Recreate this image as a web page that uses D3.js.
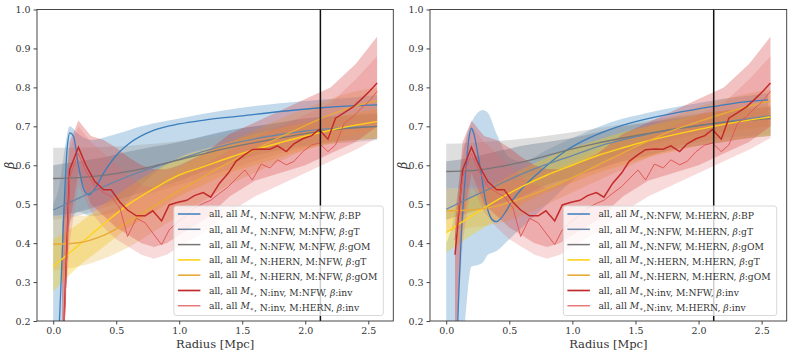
<!DOCTYPE html>
<html>
<head>
<meta charset="utf-8">
<script src="https://cdn.jsdelivr.net/npm/d3@7"></script>
<style>
  body { margin: 0; background: #fff; }
</style>
</head>
<body>
<svg id="chart" width="793" height="357"></svg>
<script>
// radii where the smooth fits are sampled
const radiusGrid = [0, 0.2, 0.4, 0.6, 0.8, 1.0, 1.2, 1.4, 1.6, 1.8, 2.0, 2.2, 2.4, 2.57];
// radii of the binned inversion profiles
const radiusBins = [0.07, 0.13, 0.20, 0.26, 0.33, 0.40, 0.46, 0.53, 0.59, 0.66, 0.73, 0.79, 0.86,
  0.92, 0.99, 1.06, 1.12, 1.19, 1.25, 1.32, 1.39, 1.45, 1.52, 1.58, 1.65, 1.72, 1.78, 1.85, 1.91,
  1.98, 2.05, 2.11, 2.18, 2.24, 2.31, 2.38, 2.44, 2.51, 2.57];
const radiusBandBins = [0.07, 0.13, 0.2, 0.3, 0.4, 0.5, 0.6, 0.7, 0.8, 0.9, 1.0, 1.2, 1.4, 1.6, 1.8, 2.0, 2.2, 2.4, 2.57];

const xTicks = [0, 0.5, 1.0, 1.5, 2.0, 2.5];
const yTicks = [0.2, 0.3, 0.4, 0.5, 0.6, 0.7, 0.8, 0.9, 1.0];
const rVirial = 2.12;

// ---- left panel, M:NFW ----
const bpRadiusNFW = [0.03, 0.06, 0.09, 0.11, 0.133, 0.16, 0.2, 0.24, 0.28, 0.32, 0.4, 0.5, 0.6, 0.8, 1.0, 1.2, 1.5, 1.8, 2.1, 2.4, 2.57];
const bpBetaNFW = [0.05, 0.28, 0.52, 0.64, 0.683, 0.675, 0.6, 0.54, 0.524, 0.535, 0.58, 0.625, 0.655, 0.69, 0.706, 0.716, 0.727, 0.738, 0.747, 0.753, 0.755];
const bpBandRadiusNFW = [0, 0.05, 0.1, 0.13, 0.2, 0.3, 0.5, 0.7, 1.0, 1.3, 1.6, 2.0, 2.3, 2.57];
const bpLoNFW = [0.1, 0.1, 0.3, 0.45, 0.48, 0.47, 0.48, 0.55, 0.62, 0.65, 0.67, 0.69, 0.7, 0.71];
const bpHiNFW = [0.5, 0.55, 0.66, 0.7, 0.68, 0.665, 0.68, 0.70, 0.72, 0.738, 0.752, 0.765, 0.772, 0.78];

const gtBetaNFW = [0.485, 0.515, 0.545, 0.572, 0.595, 0.615, 0.636, 0.654, 0.668, 0.679, 0.688, 0.694, 0.698, 0.70];
const gtLoNFW = [0.47, 0.48, 0.5, 0.52, 0.54, 0.56, 0.585, 0.605, 0.625, 0.64, 0.65, 0.66, 0.665, 0.668];
const gtHiNFW = [0.6, 0.61, 0.62, 0.635, 0.648, 0.66, 0.675, 0.69, 0.70, 0.71, 0.72, 0.725, 0.73, 0.733];

const gomBetaNFW = [0.566, 0.568, 0.574, 0.584, 0.598, 0.614, 0.63, 0.645, 0.658, 0.67, 0.681, 0.69, 0.696, 0.699];
const gomLoNFW = [0.46, 0.47, 0.49, 0.51, 0.53, 0.55, 0.57, 0.59, 0.61, 0.63, 0.645, 0.655, 0.66, 0.665];
const gomHiNFW = [0.645, 0.645, 0.647, 0.65, 0.655, 0.662, 0.67, 0.68, 0.69, 0.70, 0.71, 0.72, 0.725, 0.728];

const hernGtBetaNFW = [0.34, 0.394, 0.449, 0.5, 0.54, 0.575, 0.597, 0.62, 0.64, 0.658, 0.675, 0.69, 0.703, 0.712];
const hernGtLoNFW = [0.275, 0.34, 0.39, 0.44, 0.48, 0.52, 0.55, 0.58, 0.6, 0.62, 0.64, 0.655, 0.665, 0.67];
const hernGtHiNFW = [0.41, 0.45, 0.5, 0.545, 0.585, 0.62, 0.64, 0.66, 0.68, 0.695, 0.71, 0.722, 0.735, 0.745];

const hernGomBetaNFW = [0.397, 0.401, 0.42, 0.455, 0.495, 0.535, 0.572, 0.608, 0.64, 0.672, 0.702, 0.73, 0.752, 0.766];
const hernGomLoNFW = [0.33, 0.34, 0.36, 0.39, 0.43, 0.47, 0.51, 0.55, 0.58, 0.61, 0.64, 0.66, 0.68, 0.69];
const hernGomHiNFW = [0.47, 0.47, 0.48, 0.51, 0.55, 0.59, 0.63, 0.66, 0.69, 0.72, 0.745, 0.77, 0.79, 0.8];

const invNfwBetaL = [0.05, 0.588, 0.646, 0.60, 0.558, 0.537, 0.537, 0.505, 0.485, 0.47, 0.47, 0.483, 0.457,
  0.498, 0.505, 0.51, 0.522, 0.53, 0.518, 0.554, 0.58, 0.61, 0.627, 0.64, 0.642, 0.641, 0.65, 0.635, 0.655,
  0.668, 0.676, 0.692, 0.667, 0.721, 0.735, 0.75, 0.768, 0.79, 0.811];
const invHernBetaL = [0.03, 0.57, 0.63, 0.585, 0.545, 0.53, 0.52, 0.49, 0.417, 0.464, 0.452, 0.426, 0.396,
  0.434, 0.455, 0.472, 0.49, 0.502, 0.51, 0.528, 0.545, 0.565, 0.588, 0.562, 0.603, 0.593, 0.614, 0.601, 0.61,
  0.635, 0.652, 0.657, 0.635, 0.652, 0.708, 0.725, 0.745, 0.765, 0.79];

// ---- right panel, M:HERN ----
const bpRadiusHERN = [0.06, 0.092, 0.12, 0.158, 0.18, 0.2, 0.22, 0.25, 0.277, 0.3, 0.33, 0.36, 0.395, 0.43, 0.47, 0.527, 0.6, 0.712, 0.92, 1.1, 1.29, 1.5, 1.8, 2.12, 2.35, 2.55];
const bpBetaHERN = [-0.2, 0.2, 0.42, 0.597, 0.67, 0.695, 0.68, 0.63, 0.58, 0.53, 0.485, 0.462, 0.455, 0.462, 0.48, 0.511, 0.54, 0.575, 0.631, 0.665, 0.691, 0.712, 0.733, 0.751, 0.762, 0.768];
const bpBandRadiusHERN = [0, 0.05, 0.1, 0.15, 0.2, 0.25, 0.29, 0.33, 0.4, 0.5, 0.6, 0.8, 1.0, 1.3, 1.6, 2.0, 2.3, 2.55];
const bpLoHERN = [-0.1, -0.1, 0.0, 0.2, 0.34, 0.344, 0.35, 0.37, 0.38, 0.41, 0.44, 0.5, 0.56, 0.62, 0.65, 0.68, 0.69, 0.70];
const bpHiHERN = [0.4, 0.45, 0.55, 0.66, 0.71, 0.735, 0.742, 0.735, 0.68, 0.62, 0.61, 0.64, 0.67, 0.71, 0.735, 0.76, 0.775, 0.785];

const gtBetaHERN = [0.487, 0.518, 0.548, 0.578, 0.603, 0.625, 0.648, 0.665, 0.68, 0.692, 0.702, 0.711, 0.72, 0.727];
const gtLoHERN = [0.46, 0.48, 0.5, 0.52, 0.55, 0.57, 0.59, 0.61, 0.625, 0.64, 0.65, 0.66, 0.67, 0.675];
const gtHiHERN = [0.61, 0.62, 0.635, 0.65, 0.66, 0.67, 0.685, 0.7, 0.71, 0.72, 0.73, 0.74, 0.745, 0.75];

const gomBetaHERN = [0.584, 0.586, 0.595, 0.608, 0.625, 0.642, 0.657, 0.67, 0.682, 0.693, 0.702, 0.71, 0.716, 0.72];
const gomLoHERN = [0.54, 0.545, 0.555, 0.57, 0.585, 0.6, 0.615, 0.63, 0.64, 0.65, 0.66, 0.67, 0.675, 0.68];
const gomHiHERN = [0.655, 0.657, 0.662, 0.668, 0.676, 0.685, 0.695, 0.705, 0.715, 0.725, 0.733, 0.74, 0.745, 0.75];

const hernGtBetaHERN = [0.427, 0.47, 0.51, 0.545, 0.575, 0.6, 0.625, 0.645, 0.663, 0.678, 0.692, 0.705, 0.716, 0.724];
const hernGtLoHERN = [0.375, 0.42, 0.46, 0.5, 0.53, 0.555, 0.58, 0.6, 0.62, 0.635, 0.65, 0.66, 0.67, 0.675];
const hernGtHiHERN = [0.48, 0.52, 0.555, 0.59, 0.62, 0.645, 0.665, 0.685, 0.70, 0.715, 0.73, 0.74, 0.75, 0.755];

const hernGomBetaHERN = [0.483, 0.485, 0.495, 0.515, 0.54, 0.568, 0.6, 0.632, 0.662, 0.69, 0.712, 0.733, 0.752, 0.765];
const hernGomLoHERN = [0.43, 0.44, 0.45, 0.47, 0.5, 0.53, 0.56, 0.59, 0.62, 0.645, 0.665, 0.68, 0.69, 0.70];
const hernGomHiHERN = [0.54, 0.54, 0.55, 0.565, 0.585, 0.61, 0.64, 0.67, 0.7, 0.725, 0.75, 0.77, 0.785, 0.795];

const invNfwBetaR = [0.37, 0.588, 0.646, 0.60, 0.558, 0.537, 0.537, 0.505, 0.485, 0.47, 0.47, 0.483, 0.457,
  0.498, 0.505, 0.51, 0.522, 0.53, 0.518, 0.554, 0.58, 0.61, 0.627, 0.64, 0.642, 0.641, 0.65, 0.635, 0.655,
  0.668, 0.676, 0.692, 0.667, 0.721, 0.735, 0.75, 0.768, 0.79, 0.811];
const invHernBetaR = [0.408, 0.57, 0.63, 0.585, 0.545, 0.53, 0.52, 0.49, 0.417, 0.464, 0.452, 0.426, 0.396,
  0.434, 0.455, 0.472, 0.49, 0.502, 0.51, 0.528, 0.545, 0.565, 0.588, 0.562, 0.603, 0.593, 0.614, 0.601, 0.61,
  0.635, 0.652, 0.657, 0.635, 0.652, 0.708, 0.725, 0.745, 0.765, 0.79];

// inversion uncertainty bands (same in both panels)
const invNfwLo = [0.1, 0.45, 0.58, 0.5, 0.47, 0.44, 0.42, 0.4, 0.39, 0.4, 0.42, 0.46, 0.52, 0.56, 0.58, 0.6, 0.63, 0.66, 0.7];
const invNfwHi = [0.45, 0.66, 0.715, 0.675, 0.665, 0.645, 0.62, 0.6, 0.59, 0.59, 0.6, 0.63, 0.68, 0.71, 0.74, 0.77, 0.8, 0.86, 0.93];
const invHernLo = [0.1, 0.4, 0.55, 0.48, 0.44, 0.41, 0.39, 0.37, 0.36, 0.37, 0.39, 0.43, 0.48, 0.52, 0.55, 0.58, 0.61, 0.64, 0.67];
const invHernHi = [0.4, 0.64, 0.7, 0.66, 0.63, 0.6, 0.57, 0.55, 0.54, 0.55, 0.57, 0.6, 0.64, 0.67, 0.7, 0.73, 0.76, 0.82, 0.88];

const labelsNFW = [
  "all, all M*, N:NFW, M:NFW, β:BP",
  "all, all M*, N:NFW, M:NFW, β:gT",
  "all, all M*, N:NFW, M:NFW, β:gOM",
  "all, all M*, N:HERN, M:NFW, β:gT",
  "all, all M*, N:HERN, M:NFW, β:gOM",
  "all, all M*, N:inv, M:NFW, β:inv",
  "all, all M*, N:inv, M:HERN, β:inv"
];
const labelsHERN = [
  "all, all M*,N:NFW, M:HERN, β:BP",
  "all, all M*,N:NFW, M:HERN, β:gT",
  "all, all M*,N:NFW, M:HERN, β:gOM",
  "all, all M*,N:HERN, M:HERN, β:gT",
  "all, all M*,N:HERN, M:HERN, β:gOM",
  "all, all M*,N:inv, M:NFW, β:inv",
  "all, all M*,N:inv, M:HERN, β:inv"
];

// line colour, band colour, band opacity, line width
const styles = [
  {line: "#3b7dbd", band: "#1f77b4", op: 0.27, w: 1.3},
  {line: "#6b87a5", band: "#4d6680", op: 0.38, w: 1.3},
  {line: "#777777", band: "#a0a0a0", op: 0.35, w: 1.3},
  {line: "#ffd21a", band: "#f5cc1c", op: 0.38, w: 1.4},
  {line: "#e8aa38", band: "#e8b548", op: 0.3, w: 1.4},
  {line: "#c22b2b", band: "#d33535", op: 0.3, w: 1.5},
  {line: "#e05a5a", band: "#e26a6a", op: 0.25, w: 1.0}
];

const serif = "DejaVu Serif";

const zip = (xs, ys) => xs.map((r, i) => ({r: r, b: ys[i]}));
const zipBand = (xs, lo, hi) => xs.map((r, i) => ({r: r, lo: lo[i], hi: hi[i]}));

const panels = [
  {
    id: "nfw", x0: 37, x1: 393.3, labels: labelsNFW,
    bands: [
      zipBand(bpBandRadiusNFW, bpLoNFW, bpHiNFW),
      zipBand(radiusGrid, gtLoNFW, gtHiNFW),
      zipBand(radiusGrid, gomLoNFW, gomHiNFW),
      zipBand(radiusGrid, hernGtLoNFW, hernGtHiNFW),
      zipBand(radiusGrid, hernGomLoNFW, hernGomHiNFW),
      zipBand(radiusBandBins, invNfwLo, invNfwHi),
      zipBand(radiusBandBins, invHernLo, invHernHi)
    ],
    lines: [
      zip(bpRadiusNFW, bpBetaNFW),
      zip(radiusGrid, gtBetaNFW),
      zip(radiusGrid, gomBetaNFW),
      zip(radiusGrid, hernGtBetaNFW),
      zip(radiusGrid, hernGomBetaNFW),
      zip(radiusBins, invNfwBetaL),
      zip(radiusBins, invHernBetaL)
    ]
  },
  {
    id: "hern", x0: 430, x1: 786.7, labels: labelsHERN,
    bands: [
      zipBand(bpBandRadiusHERN, bpLoHERN, bpHiHERN),
      zipBand(radiusGrid, gtLoHERN, gtHiHERN),
      zipBand(radiusGrid, gomLoHERN, gomHiHERN),
      zipBand(radiusGrid, hernGtLoHERN, hernGtHiHERN),
      zipBand(radiusGrid, hernGomLoHERN, hernGomHiHERN),
      zipBand(radiusBandBins, invNfwLo, invNfwHi),
      zipBand(radiusBandBins, invHernLo, invHernHi)
    ],
    lines: [
      zip(bpRadiusHERN, bpBetaHERN),
      zip(radiusGrid, gtBetaHERN),
      zip(radiusGrid, gomBetaHERN),
      zip(radiusGrid, hernGtBetaHERN),
      zip(radiusGrid, hernGomBetaHERN),
      zip(radiusBins, invNfwBetaR),
      zip(radiusBins, invHernBetaR)
    ]
  }
];

const plotTop = 9.5, plotBottom = 321;
const svg = d3.select("#chart");

// write "M*" and "β" as maths
const writeLabel = (textSel, label) => {
  label.split(/(M\*|β)/).forEach(part => {
    if (part === "M*") {
      textSel.append("tspan").attr("font-style", "italic").text("M");
      textSel.append("tspan").attr("font-size", 6).attr("dy", 2).text("∗");
      textSel.append("tspan").attr("dy", -2).text("");
    } else if (part === "β") {
      textSel.append("tspan").attr("font-style", "italic").text("β");
    } else if (part.length) {
      textSel.append("tspan").text(part);
    }
  });
};

panels.forEach(p => {
  const x = d3.scaleLinear().domain([-0.1285, 2.6985]).range([p.x0, p.x1]);
  const y = d3.scaleLinear().domain([0.2, 1.0]).range([plotBottom, plotTop]);
  const g = svg.append("g").attr("font-family", serif);

  g.append("clipPath").attr("id", "clip-" + p.id)
    .append("rect").attr("x", p.x0).attr("y", plotTop).attr("width", p.x1 - p.x0).attr("height", plotBottom - plotTop);

  const plot = g.append("g").attr("clip-path", `url(#clip-${p.id})`);

  const smooth = d3.curveMonotoneX;
  p.bands.forEach((band, i) => {
    const area = d3.area()
      .x(d => x(d.r)).y0(d => y(d.lo)).y1(d => y(d.hi))
      .curve(i >= 5 ? d3.curveLinear : smooth);
    plot.append("path").datum(band)
      .attr("d", area)
      .attr("fill", styles[i].band)
      .attr("fill-opacity", styles[i].op);
  });

  p.lines.forEach((line, i) => {
    const path = d3.line().x(d => x(d.r)).y(d => y(d.b))
      .curve(i >= 5 ? d3.curveLinear : smooth);
    plot.append("path").datum(line)
      .attr("d", path)
      .attr("fill", "none")
      .attr("stroke", styles[i].line)
      .attr("stroke-width", styles[i].w);
  });

  // virial radius marker
  g.append("line")
    .attr("x1", x(rVirial)).attr("x2", x(rVirial))
    .attr("y1", plotTop).attr("y2", plotBottom)
    .attr("stroke", "#111").attr("stroke-width", 1.5);

  // frame
  g.append("rect")
    .attr("x", p.x0).attr("y", plotTop).attr("width", p.x1 - p.x0).attr("height", plotBottom - plotTop)
    .attr("fill", "none").attr("stroke", "#333").attr("stroke-width", 0.9);

  const xAxis = g.append("g").attr("transform", `translate(0,${plotBottom})`)
    .call(d3.axisBottom(x).tickValues(xTicks).tickFormat(d3.format(".1f")).tickSize(3.5).tickPadding(2.5));
  const yAxis = g.append("g").attr("transform", `translate(${p.x0},0)`)
    .call(d3.axisLeft(y).tickValues(yTicks).tickFormat(d3.format(".1f")).tickSize(3.5).tickPadding(3));
  [xAxis, yAxis].forEach(ax => {
    ax.attr("font-family", serif).attr("font-size", 9.5);
    ax.select(".domain").remove();
    ax.selectAll("line").attr("stroke", "#333").attr("stroke-width", 0.9);
    ax.selectAll("text").attr("fill", "#333");
  });

  g.append("text")
    .attr("x", (p.x0 + p.x1) / 2).attr("y", 348)
    .attr("text-anchor", "middle").attr("font-size", 11.5).attr("fill", "#333")
    .text("Radius [Mpc]");
  g.append("text")
    .attr("transform", `translate(${p.x0 - 23},${(plotTop + plotBottom) / 2}) rotate(-90)`)
    .attr("text-anchor", "middle").attr("font-size", 12).attr("font-style", "italic").attr("fill", "#333")
    .text("β");

  // legend, lower right
  const leg = g.append("g");
  const box = leg.append("rect").attr("rx", 2.5)
    .attr("fill", "#fff").attr("fill-opacity", 0.8)
    .attr("stroke", "#d5d5d5").attr("stroke-width", 0.9);
  const rowH = 15.3, legBottom = plotBottom - 5.5, legHeight = 109.5;
  const legTop = legBottom - legHeight;
  const texts = p.labels.map((lab, i) => {
    const t = leg.append("text").attr("y", legTop + 8 + i * rowH).attr("dy", "0.35em")
      .attr("font-size", 9.2).attr("fill", "#333");
    writeLabel(t, lab);
    return t;
  });
  const maxW = d3.max(texts, t => t.node().getComputedTextLength());
  const legWidth = 35 + maxW + 6;
  const legLeft = p.x1 - 10 - legWidth;
  box.attr("x", legLeft).attr("y", legTop).attr("width", legWidth).attr("height", legHeight);
  texts.forEach((t, i) => {
    t.attr("x", legLeft + 35);
    leg.append("line")
      .attr("x1", legLeft + 4).attr("x2", legLeft + 26.5)
      .attr("y1", legTop + 8 + i * rowH).attr("y2", legTop + 8 + i * rowH)
      .attr("stroke", styles[i].line).attr("stroke-width", styles[i].w + 0.2);
  });
});
</script>
</body>
</html>
